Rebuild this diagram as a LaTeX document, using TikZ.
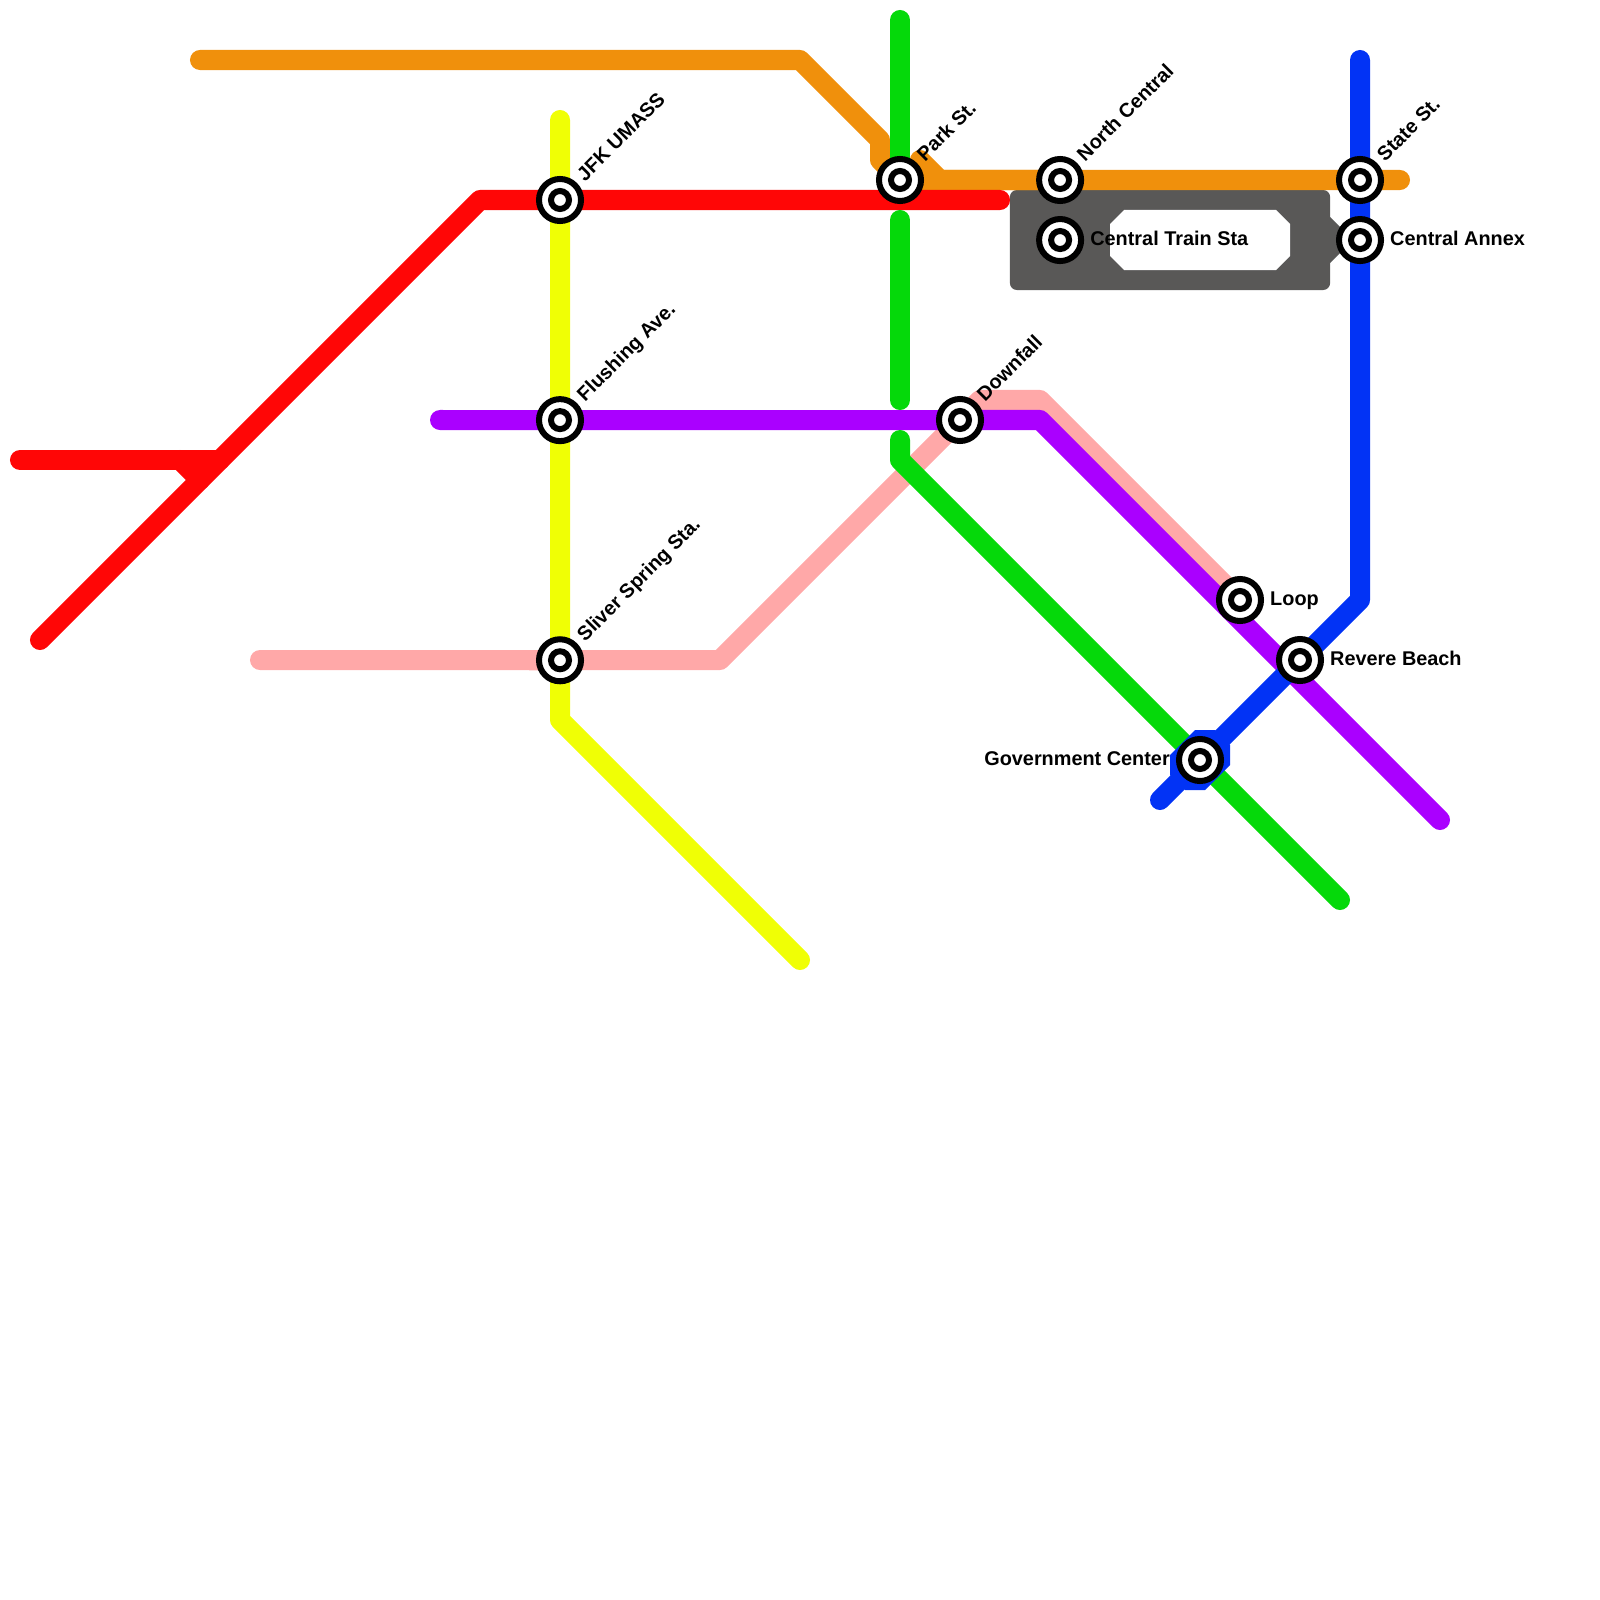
\documentclass[tikz,border=0pt]{standalone}
\usepackage{fontspec}
\setmainfont{Liberation Sans}
\usepackage{xcolor}
\usepackage{tikz}
\usetikzlibrary{positioning}
\usetikzlibrary{backgrounds}

\definecolor{redline}{HTML}{FF0606}
\definecolor{orangeline}{HTML}{F0900C}
\definecolor{greenline}{HTML}{05D90A}
\definecolor{blueline}{HTML}{0233F5}
\definecolor{purpleline}{HTML}{AA00FF}
\definecolor{pinkline}{HTML}{FFA8A8}
\definecolor{yellowline}{HTML}{F0FF05}
\definecolor{hubgray}{HTML}{595857}

\tikzset{
	metro/.style={line width=0.2cm,line cap=round,line join=round},
	station/.style={draw,circle,fill=white,line width=0.06cm,minimum size=0.42cm,inner sep=0pt,
		path picture={\draw[line width=0.06cm] (path picture bounding box.center) circle (0.09cm);}},
	lab/.style={font=\fontsize{5.65pt}{6pt}\selectfont\bfseries,inner sep=0pt,text=black,text height=0.14cm,text depth=0.04cm},
	slant/.style={lab,xshift=0.04cm,yshift=-0.06cm,rotate=45,anchor=west,label distance=0.1cm}
}

\begin{document}
\begin{tikzpicture}[x=0.01cm,y=-0.01cm,on grid,label distance=0.055cm]
	\useasboundingbox (0,0) rectangle (1600,1600);

	\node (jfk) [station,label={[slant]45:JFK UMASS}] at (560,200) {};
	\node (flushing) [station,below=2.2cm of jfk,label={[slant]45:Flushing Ave.}] {};
	\node (silver) [station,below=2.4cm of flushing,label={[slant]45:Sliver Spring Sta.}] {};
	\node (park) [station,label={[slant]45:Park St.}] at (900,180) {};
	\node (north) [station,right=1.6cm of park,label={[slant]45:North Central}] {};
	\node (train) [station,below=0.6cm of north,label={[lab]right:Central Train Sta}] {};
	\node (state) [station,label={[slant]45:State St.}] at (1360,180) {};
	\node (annex) [station,below=0.6cm of state,label={[lab]right:Central Annex}] {};
	\node (downfall) [station,label={[slant]45:Downfall}] at (960,420) {};
	\node (loop) [station,label={[lab]right:Loop}] at (1240,600) {};
	\node (revere) [station,label={[lab]right:Revere Beach}] at (1300,660) {};
	\node (gov) [station,label={[lab]left:Government Center}] at (1200,760) {};

	\begin{scope}[on background layer]
		% hub box behind the two Central stations
		\node (hub) [fill=hubgray,rectangle,rounded corners=0.07cm,minimum width=3.2cm,minimum height=1cm] at (1170,240) {};
		\fill[hubgray] (1330,217) -- (1353,240) -- (1330,263) -- cycle;
		\fill[white] (1124,210) -- (1276,210) -- (1290,224) -- (1290,256) -- (1276,270) -- (1124,270) -- (1110,256) -- (1110,224) -- cycle;

		\draw[metro,pinkline] (260,660) -- (silver.center) -- (720,660) -- (980,400) -- (1040,400) -- (loop.center);
		\draw[metro,purpleline] (440,420) -- (flushing.center) -- (downfall.center) -- (1040,420) -- (1440,820);
		\draw[metro,yellowline] (560,120) -- (jfk.center) -- (flushing.center) -- (silver.center) -- (560,720) -- (800,960);
		\draw[metro,orangeline] (200,60) -- (800,60) -- (880,140) -- (880,160) -- (park.center) -- (north.center) -- (1400,180);
		\draw[metro,orangeline] (920,160) -- (940,180) -- (north.center);
		\draw[metro,redline] (40,640) -- (480,200) -- (jfk.center) -- (1000,200);
		\draw[metro,redline] (20,460) -- (220,460);
		\draw[metro,redline] (180,460) -- (200,480);
		\draw[metro,greenline] (900,20) -- (park.center);
		\draw[metro,greenline] (900,220) -- (900,400);
		\draw[metro,greenline] (900,440) -- (900,460) -- (gov.center) -- (1340,900);
		\draw[metro,blueline] (state.center |- 0,60) -- (state.center) -- (annex.center) -- (annex.center |- 0,600) -- (revere.center) -- (gov.center) -- (1160,800);
		\fill[blueline] (1195,730) -- (1215,730) -- (1230,745) -- (1230,765) -- (1205,790) -- (1185,790) -- (1170,775) -- (1170,755) -- cycle;
	\end{scope}
\end{tikzpicture}
\end{document}
